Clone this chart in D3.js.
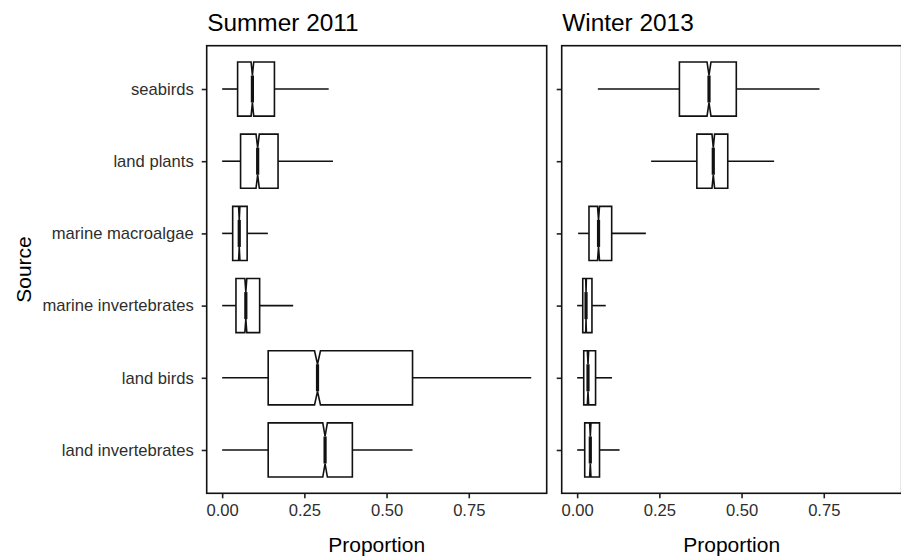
<!DOCTYPE html>
<html>
<head>
<meta charset="utf-8">
<script src="https://cdn.jsdelivr.net/npm/d3@7"></script>
<style>
	body { margin: 0; background: #fff; }
	svg { display: block; font-family: "Liberation Sans", Arial, sans-serif; }
</style>
</head>
<body>
<div id="chart"></div>
<script>
// categories, top to bottom
const sources = ["seabirds", "land plants", "marine macroalgae", "marine invertebrates", "land birds", "land invertebrates"];
const panelTitles = ["Summer 2011", "Winter 2013"];
const xTicks = [0, 0.25, 0.5, 0.75];

// Summer 2011
const summerLow = [0, 0, 0, 0, 0, 0];
const summerQ1 = [0.047, 0.056, 0.032, 0.042, 0.140, 0.140];
const summerMed = [0.092, 0.108, 0.052, 0.072, 0.290, 0.313];
const summerQ3 = [0.159, 0.170, 0.076, 0.114, 0.579, 0.396];
const summerHigh = [0.324, 0.337, 0.139, 0.216, 0.940, 0.579];
const summerNotch = [0.004, 0.005, 0.002, 0.003, 0.009, 0.007];

// Winter 2013
const winterLow = [0.063, 0.225, 0.003, 0, 0, 0];
const winterQ1 = [0.311, 0.364, 0.036, 0.017, 0.020, 0.023];
const winterMed = [0.401, 0.414, 0.065, 0.027, 0.033, 0.040];
const winterQ3 = [0.484, 0.458, 0.105, 0.045, 0.056, 0.068];
const winterHigh = [0.737, 0.599, 0.209, 0.087, 0.106, 0.129];
const winterNotch = [0.006, 0.004, 0.003, 0.001, 0.002, 0.002];

const WIDTH = 901;
const HEIGHT = 558;
const PANEL_LEFT = [206.7, 561.7];
const PANEL_TOP = 45.7;
const PANEL_W = 340;
const PANEL_H = 447.6;
const TEXT_GREY = "#2e2e2e";
const LINE_W = 1.6;

function buildRows(low, q1, med, q3, high, notch) {
	return sources.map((s, i) => ({
		source: s, low: low[i], q1: q1[i], med: med[i], q3: q3[i], high: high[i], notch: notch[i],
	}));
}

const panels = [
	buildRows(summerLow, summerQ1, summerMed, summerQ3, summerHigh, summerNotch),
	buildRows(winterLow, winterQ1, winterMed, winterQ3, winterHigh, winterNotch),
];

const svg = d3.select("#chart")
	.append("svg")
	.attr("width", WIDTH)
	.attr("height", HEIGHT);

const xScale = d3.scaleLinear().domain([-0.047, 0.987]).range([0, PANEL_W]);
const yScale = d3.scalePoint().domain(sources).range([0, PANEL_H]).padding(0.6);
const half = yScale.step() * 0.375;

const line = d3.line().x((d) => xScale(d[0])).y((d) => d[1]);

panels.forEach((rows, p) => {
	const g = svg.append("g")
		.attr("transform", `translate(${PANEL_LEFT[p]}, ${PANEL_TOP})`);

	// x axis
	const xAxis = g.append("g")
		.attr("transform", `translate(0, ${PANEL_H})`)
		.call(d3.axisBottom(xScale).tickValues(xTicks).tickFormat(d3.format(".2f")).tickSizeOuter(0).tickSizeInner(5).tickPadding(4));
	xAxis.select(".domain").remove();
	xAxis.selectAll(".tick line").attr("stroke", "#222").attr("stroke-width", LINE_W);
	xAxis.selectAll(".tick text")
		.attr("fill", TEXT_GREY)
		.style("font-size", "16.6px")
		.attr("dy", "0.85em");

	// y axis
	const yAxis = g.append("g")
		.call(d3.axisLeft(yScale).tickSizeOuter(0).tickSizeInner(5).tickPadding(8)
			.tickFormat(p === 0 ? (d) => d : () => ""));
	yAxis.select(".domain").remove();
	yAxis.selectAll(".tick line").attr("stroke", "#222").attr("stroke-width", LINE_W);
	yAxis.selectAll(".tick text")
		.attr("fill", TEXT_GREY)
		.style("font-size", "16.6px");

	// boxes
	const box = g.selectAll(".box")
		.data(rows)
		.join("g")
		.attr("class", "box")
		.attr("transform", (d) => `translate(0, ${yScale(d.source)})`);

	box.append("path")
		.attr("d", (d) => line([[d.low, 0], [d.q1, 0]]))
		.attr("stroke", "#111")
		.attr("stroke-width", LINE_W)
		.attr("fill", "none");

	box.append("path")
		.attr("d", (d) => line([[d.q3, 0], [d.high, 0]]))
		.attr("stroke", "#111")
		.attr("stroke-width", LINE_W)
		.attr("fill", "none");

	box.append("path")
		.attr("d", (d) => line([
			[d.q1, -half], [d.med - d.notch, -half], [d.med, -half / 2], [d.med + d.notch, -half], [d.q3, -half],
			[d.q3, half], [d.med + d.notch, half], [d.med, half / 2], [d.med - d.notch, half], [d.q1, half],
		]) + "Z")
		.attr("fill", "#fff")
		.attr("stroke", "#111")
		.attr("stroke-width", LINE_W)
		.attr("stroke-linejoin", "miter");

	box.append("path")
		.attr("d", (d) => line([[d.med, -half / 2], [d.med, half / 2]]))
		.attr("stroke", "#111")
		.attr("stroke-width", 3.2);

	// panel border
	g.append("rect")
		.attr("width", PANEL_W)
		.attr("height", PANEL_H)
		.attr("fill", "none")
		.attr("stroke", "#111")
		.attr("stroke-width", LINE_W);

	// titles
	g.append("text")
		.attr("x", 0.5)
		.attr("y", 30.7 - PANEL_TOP)
		.style("font-size", "24.4px")
		.attr("fill", "#000")
		.text(panelTitles[p]);

	g.append("text")
		.attr("x", PANEL_W / 2)
		.attr("y", 551.7 - PANEL_TOP)
		.attr("text-anchor", "middle")
		.style("font-size", "21px")
		.attr("fill", "#000")
		.text("Proportion");
});

svg.append("text")
	.attr("transform", `translate(31, ${PANEL_TOP + PANEL_H / 2}) rotate(-90)`)
	.attr("text-anchor", "middle")
	.style("font-size", "21px")
	.attr("fill", "#000")
	.text("Source");
</script>
</body>
</html>
